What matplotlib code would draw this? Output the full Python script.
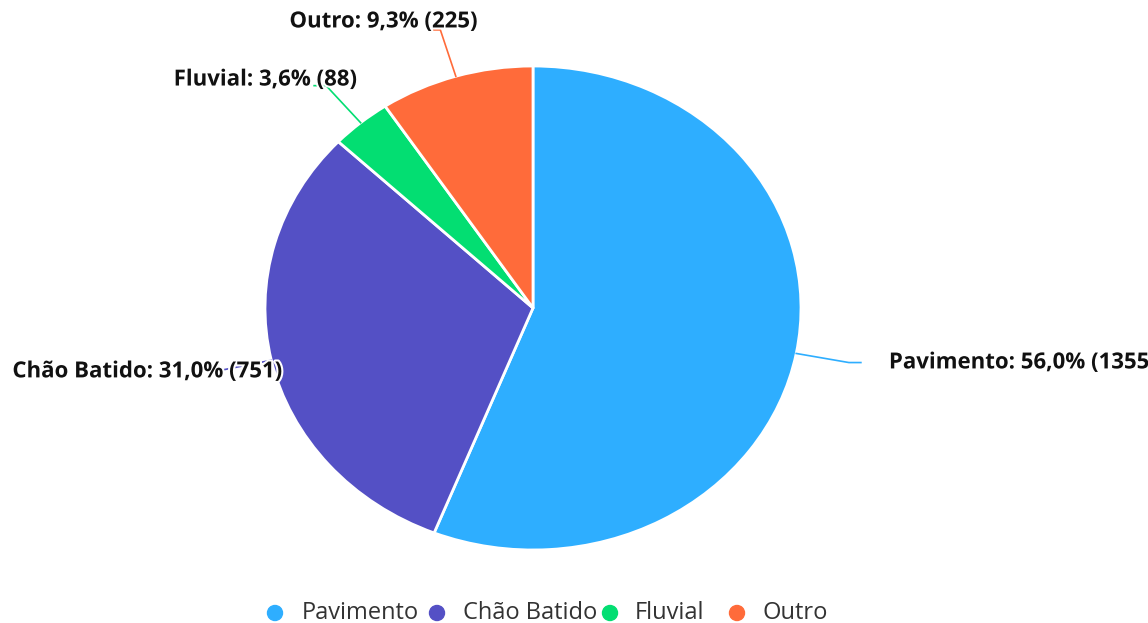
import numpy as np
import matplotlib
matplotlib.use("Agg")
import matplotlib.pyplot as plt
import matplotlib.patheffects as pe

# ---- data ----
categories = ["Pavimento", "Chão Batido", "Fluvial", "Outro"]
values = [1355, 751, 88, 225]
colors = ["#2EAEFF", "#5450C5", "#03DE72", "#FF6B3A"]

W, H = 1148, 623
fig = plt.figure(figsize=(W / 100, H / 100), dpi=100)

# pie centre / radii in pixels (ellipse)
cx, cy, rx, ry = 533, 308, 268, 242
ax = fig.add_axes([(cx - rx) / W, (H - cy - ry) / H, 2 * rx / W, 2 * ry / H])
wedges, _ = ax.pie(values, colors=colors, startangle=90, counterclock=False,
                   wedgeprops=dict(edgecolor="white", linewidth=2, joinstyle="round"),
                   radius=1, frame=False)
ax.set_aspect("auto")
ax.set_xlim(-1, 1)
ax.set_ylim(-1, 1)
ax.axis("off")

total = sum(values)
fracs = [v / total for v in values]
starts = 90 - 360 * np.concatenate([[0], np.cumsum(fracs)[:-1]])
mids = starts - 180 * np.array(fracs)

# label anchors in axes data coords (layout)
label_pos = [(1.328, -0.227, "left"), (-0.937, -0.264, "right"),
             (-0.657, 0.942, "right"), (-0.558, 1.182, "center")]
seg = 12 / rx

for i, (cat, v, f, m, col) in enumerate(zip(categories, values, fracs, mids, colors)):
    a = np.deg2rad(m)
    x0, y0 = np.cos(a), np.sin(a)
    x1, y1 = 1.2 * x0, 1.2 * y0
    d = 1 if x0 > 0 else -1
    x2 = x1 + d * seg
    ax.plot([x0, x1, x2], [y0, y1, y1], color=col, lw=1.2, clip_on=False,
            solid_joinstyle="round")
    tx, ty, ha = label_pos[i]
    pct = f"{100 * f:.1f}".replace(".", ",")
    ax.text(tx, ty, f"{cat}: {pct}% ({v})", ha=ha, va="center",
            fontsize=16, fontweight="bold", family="Open Sans", color="#111111",
            clip_on=False,
            path_effects=[pe.withStroke(linewidth=3, foreground="white")])

# legend (manual)
leg_y = 1 - 613 / H
marker_x = [275, 437, 610, 737]
text_x = [302, 463, 635, 763]
for mx, tx_, cat, col in zip(marker_x, text_x, categories, colors):
    fig.patches.append(matplotlib.patches.Ellipse((mx / W, leg_y), 15 / W, 15 / H,
                                                  transform=fig.transFigure,
                                                  color=col))
    fig.text(tx_ / W, leg_y, cat, ha="left", va="center", fontsize=17,
             family="Open Sans", color="#333333")

fig.savefig("out.png", dpi=100, facecolor="white")
